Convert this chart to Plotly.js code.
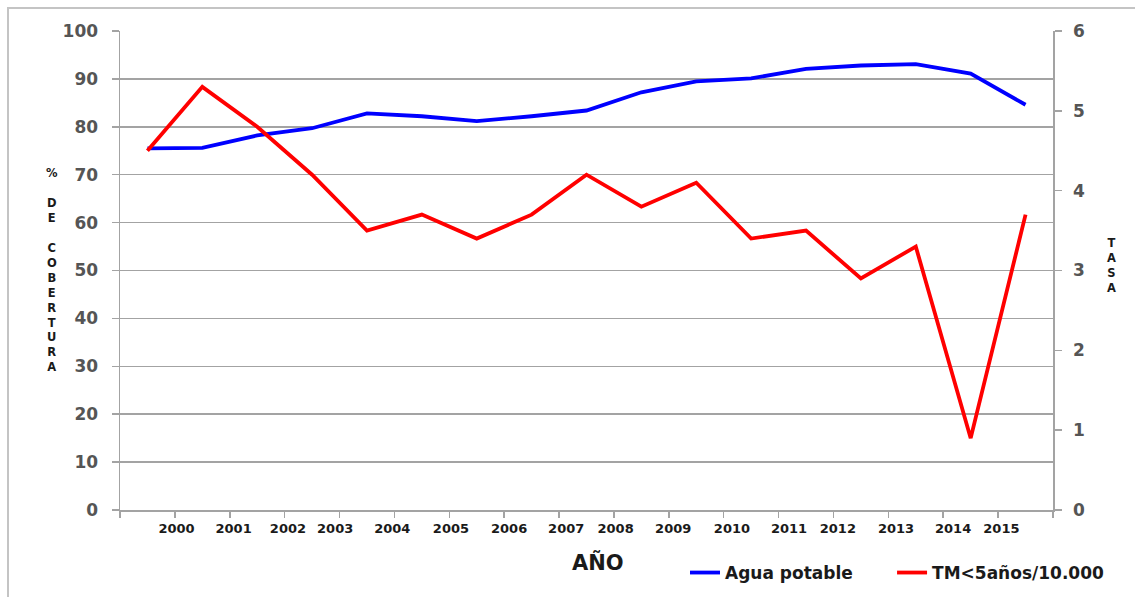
<!DOCTYPE html>
<html>
<head>
<meta charset="utf-8">
<script src="https://cdn.plot.ly/plotly-3.0.1.min.js"></script>
<style>
  html, body { margin: 0; padding: 0; background: #ffffff; }
  #chart { width: 1135px; height: 597px; }
  #frame {
    position: absolute; left: 7px; top: 7px; width: 1140px; height: 600px;
    border-left: 2px solid #c4c4c4; border-top: 2px solid #c4c4c4;
    pointer-events: none;
  }
</style>
</head>
<body>
<div id="chart"></div>
<div id="frame"></div>
<script>
// Year labels shown under the horizontal axis
const yearLabels = ['2000', '2001', '2002', '2003', '2004', '2005', '2006', '2007',
                    '2008', '2009', '2010', '2011', '2012', '2013', '2014', '2015'];

// % de cobertura de agua potable (left axis)
const aguaPotable = [75.5, 75.6, 78.2, 79.7, 82.8, 82.2, 81.2, 82.2, 83.4,
                     87.2, 89.5, 90.1, 92.1, 92.8, 93.1, 91.1, 84.6];

// Tasa de mortalidad en menores de 5 años por 10.000 (right axis)
const tmMenores5 = [4.5, 5.3, 4.8, 4.2, 3.5, 3.7, 3.4, 3.7, 4.2,
                    3.8, 4.1, 3.4, 3.5, 2.9, 3.3, 0.9, 3.7];

// each point sits in the middle of its own slot on the category strip
const slotCentre = aguaPotable.map((_, i) => i + 0.5);

// where each year label is written along the strip
const yearLabelAt = [1.03, 2.07, 3.06, 3.92, 4.96, 6.03, 7.09, 8.13,
                     9.03, 10.08, 11.15, 12.19, 13.08, 14.14, 15.18, 16.06];

const axisGrey = '#a3a3a3';
const numFont = { family: 'DejaVu Sans', size: 17, color: '#555555', weight: 'bold' };
const darkBold = { family: 'DejaVu Sans', color: '#1a1a1a', weight: 'bold' };

const traces = [
  {
    name: 'Agua potable',
    x: slotCentre, y: aguaPotable,
    type: 'scatter', mode: 'lines',
    line: { color: '#0000ff', width: 3.8 },
    yaxis: 'y', legend: 'legend', cliponaxis: false, hoverinfo: 'y'
  },
  {
    name: 'TM<5años/10.000',
    x: slotCentre, y: tmMenores5,
    type: 'scatter', mode: 'lines',
    line: { color: '#ff0000', width: 3.8 },
    yaxis: 'y2', legend: 'legend2', cliponaxis: false, hoverinfo: 'y'
  }
];

const legendBase = {
  orientation: 'h', y: -0.1315, xanchor: 'left', yanchor: 'middle',
  bgcolor: 'rgba(0,0,0,0)', borderwidth: 0,
  font: Object.assign({ size: 17 }, darkBold)
};

const layout = {
  width: 1135, height: 597,
  margin: { l: 120, r: 82, t: 31, b: 87, autoexpand: false },
  paper_bgcolor: '#ffffff', plot_bgcolor: '#ffffff',
  showlegend: true,
  xaxis: {
    range: [0, aguaPotable.length],
    showgrid: false, zeroline: false,
    showline: true, linecolor: axisGrey, linewidth: 1.5,
    tickmode: 'array', tickvals: yearLabelAt, ticktext: yearLabels,
    ticks: '', ticklabelstandoff: 6,
    tickfont: Object.assign({ size: 13 }, darkBold),
    minor: { tickmode: 'linear', tick0: 0, dtick: 1, ticks: 'outside',
             ticklen: 6, tickwidth: 1.5, tickcolor: axisGrey, showgrid: false },
    fixedrange: true
  },
  yaxis: {
    range: [0, 100], tickmode: 'linear', tick0: 0, dtick: 10,
    showgrid: true, gridcolor: axisGrey, gridwidth: 1.5,
    zeroline: false, showline: true, linecolor: axisGrey, linewidth: 1.5,
    ticks: 'outside', ticklen: 7, tickwidth: 1.5, tickcolor: axisGrey,
    ticklabelstandoff: 10,
    tickfont: numFont, fixedrange: true
  },
  yaxis2: {
    range: [0, 6], tickmode: 'linear', tick0: 0, dtick: 1,
    overlaying: 'y', side: 'right',
    showgrid: false, zeroline: false, showline: true, linecolor: axisGrey, linewidth: 1.5,
    ticks: 'outside', ticklen: 7, tickwidth: 1.5, tickcolor: axisGrey,
    ticklabelstandoff: 8,
    tickfont: numFont, fixedrange: true
  },
  legend: Object.assign({ x: 0.6056 }, legendBase),
  legend2: Object.assign({ x: 0.8275 }, legendBase),
  annotations: [
    {
      text: '%<br><br>D<br>E<br><br>C<br>O<br>B<br>E<br>R<br>T<br>U<br>R<br>A',
      xref: 'paper', yref: 'paper', x: -0.0729, y: 0.501,
      xanchor: 'center', yanchor: 'middle', showarrow: false, align: 'center',
      font: Object.assign({ size: 11.5 }, darkBold)
    },
    {
      text: 'T<br>A<br>S<br>A',
      xref: 'paper', yref: 'paper', x: 1.0632, y: 0.510,
      xanchor: 'center', yanchor: 'middle', showarrow: false, align: 'center',
      font: Object.assign({ size: 11.5 }, darkBold)
    },
    {
      text: 'AÑO',
      xref: 'paper', yref: 'paper', x: 0.5123, y: -0.1106,
      xanchor: 'center', yanchor: 'middle', showarrow: false,
      font: Object.assign({ size: 21 }, darkBold)
    }
  ]
};

Plotly.newPlot('chart', traces, layout, { displayModeBar: false, staticPlot: true });
</script>
</body>
</html>
